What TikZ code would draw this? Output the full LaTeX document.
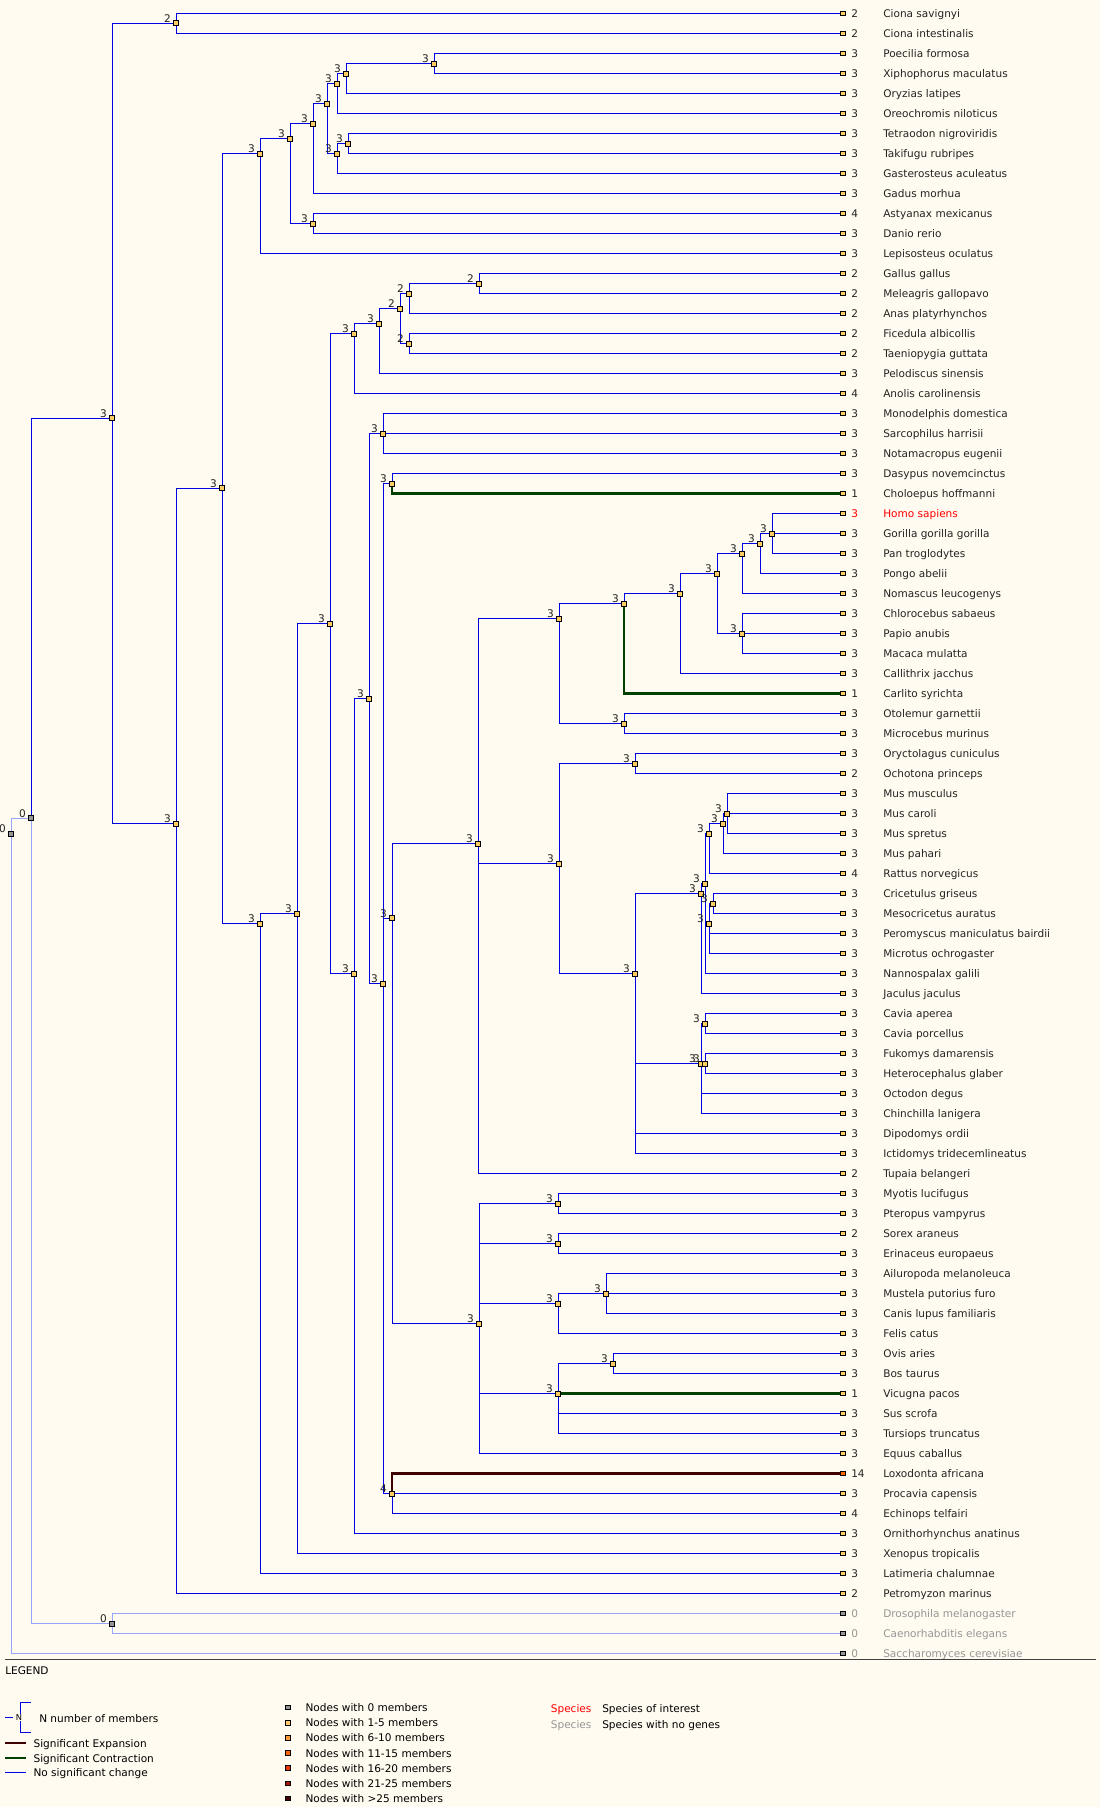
\documentclass[tikz,border=0pt]{standalone}
\usepackage{fontspec}
\setmainfont{DejaVu Sans}
\usetikzlibrary{calc}

\definecolor{paperc}{RGB}{255,251,240}
\definecolor{cblue}{RGB}{0,0,230}
\definecolor{cnog}{RGB}{150,165,250}
\definecolor{ccont}{RGB}{0,64,0}
\definecolor{cexp}{RGB}{64,0,0}
\definecolor{nodec}{RGB}{255,204,102}
\definecolor{zeroc}{RGB}{150,150,150}
\definecolor{txtc}{RGB}{35,35,35}
\definecolor{csix}{RGB}{255,153,51}
\definecolor{celev}{RGB}{255,102,0}
\definecolor{csixt}{RGB}{230,51,0}
\definecolor{ctwen}{RGB}{170,17,0}
\definecolor{cmax}{RGB}{68,0,0}

\pgfdeclarelayer{paper}
\pgfdeclarelayer{edges}
\pgfsetlayers{paper,edges,main}

% internal node: [style]{name}{x}{y}{members}
\newcommand{\inode}[5][isq]{%
  \node[#1] (#2) at (#3,#4) {};
  \node[nlbl] (#2-l) at ([shift={(-5,-1)}]#2.center) {#5};}
% leaf: [text colour]{square colour}{name}{row}{members}{species}
\newcommand{\leaf}[6][txtc]{%
  \node[lsq,fill=#2] (#3) at (843,{13.3+20*(#4-1)}) {};
  \node[cnt,text=#1] (#3-n) at ([shift={(8,4)}]#3.center) {#5};
  \node[spc,text=#1] (#3-t) at ([shift={(40,4)}]#3.center) {#6};}

\begin{document}
\begin{tikzpicture}[x=0.75pt,y=-0.75pt,
    tf/.style={font=\fontsize{7.9pt}{9.5pt}\selectfont},
    isq/.style={draw=black,line width=0.75pt,fill=nodec,inner sep=0pt,minimum size=3.7pt},
    isq0/.style={isq,fill=zeroc},
    lsq/.style={draw=black,line width=0.7pt,inner sep=0pt,minimum size=3.3pt},
    nlbl/.style={tf,text=txtc,inner sep=0pt,anchor=base east},
    cnt/.style={tf,inner sep=0pt,anchor=base west},
    spc/.style={tf,text=black,inner sep=0pt,anchor=base west},
    br/.style={draw=cblue,line width=0.75pt},
    brn/.style={draw=cnog,line width=0.75pt},
    brc/.style={draw=ccont,line width=1.9pt},
    bre/.style={draw=cexp,line width=1.9pt}]
    \useasboundingbox (0,0) rectangle (1100,1807);
    \begin{pgfonlayer}{paper}
        \fill[paperc] (0,0) rectangle (1100,1807);
    \end{pgfonlayer}

    % leaves
    \leaf{nodec}{csav}{1}{2}{Ciona savignyi}
    \leaf{nodec}{cint}{2}{2}{Ciona intestinalis}
    \leaf{nodec}{pfor}{3}{3}{Poecilia formosa}
    \leaf{nodec}{xmac}{4}{3}{Xiphophorus maculatus}
    \leaf{nodec}{olat}{5}{3}{Oryzias latipes}
    \leaf{nodec}{onil}{6}{3}{Oreochromis niloticus}
    \leaf{nodec}{tnig}{7}{3}{Tetraodon nigroviridis}
    \leaf{nodec}{trub}{8}{3}{Takifugu rubripes}
    \leaf{nodec}{gacu}{9}{3}{Gasterosteus aculeatus}
    \leaf{nodec}{gmor}{10}{3}{Gadus morhua}
    \leaf{nodec}{amex}{11}{4}{Astyanax mexicanus}
    \leaf{nodec}{drer}{12}{3}{Danio rerio}
    \leaf{nodec}{locu}{13}{3}{Lepisosteus oculatus}
    \leaf{nodec}{ggal}{14}{2}{Gallus gallus}
    \leaf{nodec}{mgal}{15}{2}{Meleagris gallopavo}
    \leaf{nodec}{apla}{16}{2}{Anas platyrhynchos}
    \leaf{nodec}{falb}{17}{2}{Ficedula albicollis}
    \leaf{nodec}{tgut}{18}{2}{Taeniopygia guttata}
    \leaf{nodec}{psin}{19}{3}{Pelodiscus sinensis}
    \leaf{nodec}{acar}{20}{4}{Anolis carolinensis}
    \leaf{nodec}{mdom}{21}{3}{Monodelphis domestica}
    \leaf{nodec}{shar}{22}{3}{Sarcophilus harrisii}
    \leaf{nodec}{neug}{23}{3}{Notamacropus eugenii}
    \leaf{nodec}{dnov}{24}{3}{Dasypus novemcinctus}
    \leaf{nodec}{chof}{25}{1}{Choloepus hoffmanni}
    \leaf[red]{nodec}{hsap}{26}{3}{Homo sapiens}
    \leaf{nodec}{ggor}{27}{3}{Gorilla gorilla gorilla}
    \leaf{nodec}{ptro}{28}{3}{Pan troglodytes}
    \leaf{nodec}{pabe}{29}{3}{Pongo abelii}
    \leaf{nodec}{nleu}{30}{3}{Nomascus leucogenys}
    \leaf{nodec}{csab}{31}{3}{Chlorocebus sabaeus}
    \leaf{nodec}{panu}{32}{3}{Papio anubis}
    \leaf{nodec}{mmul}{33}{3}{Macaca mulatta}
    \leaf{nodec}{cjac}{34}{3}{Callithrix jacchus}
    \leaf{nodec}{csyr}{35}{1}{Carlito syrichta}
    \leaf{nodec}{ogar}{36}{3}{Otolemur garnettii}
    \leaf{nodec}{mmur}{37}{3}{Microcebus murinus}
    \leaf{nodec}{ocun}{38}{3}{Oryctolagus cuniculus}
    \leaf{nodec}{opri}{39}{2}{Ochotona princeps}
    \leaf{nodec}{mmus}{40}{3}{Mus musculus}
    \leaf{nodec}{mcar}{41}{3}{Mus caroli}
    \leaf{nodec}{mspr}{42}{3}{Mus spretus}
    \leaf{nodec}{mpah}{43}{3}{Mus pahari}
    \leaf{nodec}{rnor}{44}{4}{Rattus norvegicus}
    \leaf{nodec}{cgri}{45}{3}{Cricetulus griseus}
    \leaf{nodec}{maur}{46}{3}{Mesocricetus auratus}
    \leaf{nodec}{pman}{47}{3}{Peromyscus maniculatus bairdii}
    \leaf{nodec}{moch}{48}{3}{Microtus ochrogaster}
    \leaf{nodec}{ngal}{49}{3}{Nannospalax galili}
    \leaf{nodec}{jjac}{50}{3}{Jaculus jaculus}
    \leaf{nodec}{cape}{51}{3}{Cavia aperea}
    \leaf{nodec}{cpor}{52}{3}{Cavia porcellus}
    \leaf{nodec}{fdam}{53}{3}{Fukomys damarensis}
    \leaf{nodec}{hgla}{54}{3}{Heterocephalus glaber}
    \leaf{nodec}{odeg}{55}{3}{Octodon degus}
    \leaf{nodec}{clan}{56}{3}{Chinchilla lanigera}
    \leaf{nodec}{dord}{57}{3}{Dipodomys ordii}
    \leaf{nodec}{itri}{58}{3}{Ictidomys tridecemlineatus}
    \leaf{nodec}{tbel}{59}{2}{Tupaia belangeri}
    \leaf{nodec}{mluc}{60}{3}{Myotis lucifugus}
    \leaf{nodec}{pvam}{61}{3}{Pteropus vampyrus}
    \leaf{nodec}{sara}{62}{2}{Sorex araneus}
    \leaf{nodec}{eeur}{63}{3}{Erinaceus europaeus}
    \leaf{nodec}{amel}{64}{3}{Ailuropoda melanoleuca}
    \leaf{nodec}{mput}{65}{3}{Mustela putorius furo}
    \leaf{nodec}{clup}{66}{3}{Canis lupus familiaris}
    \leaf{nodec}{fcat}{67}{3}{Felis catus}
    \leaf{nodec}{oari}{68}{3}{Ovis aries}
    \leaf{nodec}{btau}{69}{3}{Bos taurus}
    \leaf{nodec}{vpac}{70}{1}{Vicugna pacos}
    \leaf{nodec}{sscr}{71}{3}{Sus scrofa}
    \leaf{nodec}{ttru}{72}{3}{Tursiops truncatus}
    \leaf{nodec}{ecab}{73}{3}{Equus caballus}
    \leaf{celev}{lafr}{74}{14}{Loxodonta africana}
    \leaf{nodec}{pcap}{75}{3}{Procavia capensis}
    \leaf{nodec}{etel}{76}{4}{Echinops telfairi}
    \leaf{nodec}{oana}{77}{3}{Ornithorhynchus anatinus}
    \leaf{nodec}{xtro}{78}{3}{Xenopus tropicalis}
    \leaf{nodec}{lcha}{79}{3}{Latimeria chalumnae}
    \leaf{nodec}{pmar}{80}{2}{Petromyzon marinus}
    \leaf[zeroc]{zeroc}{dmel}{81}{0}{Drosophila melanogaster}
    \leaf[zeroc]{zeroc}{cele}{82}{0}{Caenorhabditis elegans}
    \leaf[zeroc]{zeroc}{scer}{83}{0}{Saccharomyces cerevisiae}

    % inner nodes
    \inode[isq0]{root}{11}{833.7}{0}
    \inode[isq0]{opis}{31}{818.3}{0}
    \inode[isq0]{ecdy}{112}{1623.7}{0}
    \inode{deut}{112}{418.3}{3}
    \inode{cio}{176}{23.3}{2}
    \inode{vert}{176}{823.7}{3}
    \inode{gnath}{222}{488.3}{3}
    \inode{actino}{260}{153.7}{3}
    \inode{teleo}{290}{138.7}{3}
    \inode{eute}{313}{123.7}{3}
    \inode{otophy}{313}{223.7}{3}
    \inode{perc}{327}{103.7}{3}
    \inode{ovale}{337}{83.7}{3}
    \inode{cypr}{346}{73.7}{3}
    \inode{poec}{434}{63.7}{3}
    \inode{tetra}{337}{153.7}{3}
    \inode{fugu}{348}{143.7}{3}
    \inode{sarco}{260}{923.7}{3}
    \inode{tetrap}{297}{913.7}{3}
    \inode{amnio}{330}{623.7}{3}
    \inode{saur}{354}{333.7}{3}
    \inode{arch}{379}{323.7}{3}
    \inode{aves}{400}{308.7}{2}
    \inode{galli}{409}{293.7}{2}
    \inode{phas}{479}{283.7}{2}
    \inode{passe}{409}{343.7}{2}
    \inode{mamm}{354}{973.7}{3}
    \inode{theria}{369}{698.7}{3}
    \inode{marsu}{383}{433.7}{3}
    \inode{euth}{383}{983.7}{3}
    \inode{xenar}{392}{483.7}{3}
    \inode{boreo}{392}{918.3}{3}
    \inode{afro}{392}{1493.7}{4}
    \inode{euarch}{478}{843.7}{3}
    \inode{laur}{479}{1323.7}{3}
    \inode{prim}{559}{618.7}{3}
    \inode{haplo}{624}{603.7}{3}
    \inode{simi}{680}{593.7}{3}
    \inode{catar}{717}{573.7}{3}
    \inode{homin}{742}{553.7}{3}
    \inode{homini}{760}{543.7}{3}
    \inode{hpg}{772}{533.7}{3}
    \inode{cerco}{742}{633.7}{3}
    \inode{strep}{624}{723.7}{3}
    \inode{glires}{559}{863.7}{3}
    \inode{lago}{635}{763.7}{3}
    \inode{rodent}{635}{973.7}{3}
    \inode{musgrp}{727}{813.7}{3}
    \inode{musg}{723}{823.7}{3}
    \inode{murin}{709}{833.7}{3}
    \inode{muroid}{705}{883.7}{3}
    \inode{myomor}{701}{893.7}{3}
    \inode{cricg}{713}{903.7}{3}
    \inode{cricet}{709}{923.7}{3}
    \inode{cavia}{705}{1023.7}{3}
    \inode{hystr}{701}{1063.7}{3}
    \inode{bathy}{705}{1063.7}{3}
    \inode{chiro}{558}{1203.7}{3}
    \inode{eulip}{558}{1243.7}{3}
    \inode{carni}{558}{1303.7}{3}
    \inode{canif}{606}{1293.7}{3}
    \inode{cetart}{558}{1393.7}{3}
    \inode{bovid}{613}{1363.7}{3}

    % branches
    \begin{pgfonlayer}{edges}
        \draw[brn] (root.center) |- (opis.center) (root.center) |- (scer.center);
        \draw[brn] (opis.center) |- (ecdy.center);
        \draw[br] (opis.center) |- (deut.center);
        \draw[brn] (ecdy.center) |- (dmel.center) (ecdy.center) |- (cele.center);
        \draw[br] (deut.center) |- (cio.center) (deut.center) |- (vert.center);
        \draw[br] (cio.center) |- (csav.center) (cio.center) |- (cint.center);
        \draw[br] (vert.center) |- (gnath.center) (vert.center) |- (pmar.center);
        \draw[br] (gnath.center) |- (actino.center) (gnath.center) |- (sarco.center);
        % fish
        \draw[br] (actino.center) |- (teleo.center) (actino.center) |- (locu.center);
        \draw[br] (teleo.center) |- (eute.center) (teleo.center) |- (otophy.center);
        \draw[br] (otophy.center) |- (amex.center) (otophy.center) |- (drer.center);
        \draw[br] (eute.center) |- (perc.center) (eute.center) |- (gmor.center);
        \draw[br] (perc.center) |- (ovale.center) (perc.center) |- (tetra.center);
        \draw[br] (ovale.center) |- (cypr.center) (ovale.center) |- (onil.center);
        \draw[br] (cypr.center) |- (poec.center) (cypr.center) |- (olat.center);
        \draw[br] (poec.center) |- (pfor.center) (poec.center) |- (xmac.center);
        \draw[br] (tetra.center) |- (fugu.center) (tetra.center) |- (gacu.center);
        \draw[br] (fugu.center) |- (tnig.center) (fugu.center) |- (trub.center);
        % tetrapods
        \draw[br] (sarco.center) |- (tetrap.center) (sarco.center) |- (lcha.center);
        \draw[br] (tetrap.center) |- (amnio.center) (tetrap.center) |- (xtro.center);
        \draw[br] (amnio.center) |- (saur.center) (amnio.center) |- (mamm.center);
        \draw[br] (saur.center) |- (arch.center) (saur.center) |- (acar.center);
        \draw[br] (arch.center) |- (aves.center) (arch.center) |- (psin.center);
        \draw[br] (aves.center) |- (galli.center) (aves.center) |- (passe.center);
        \draw[br] (galli.center) |- (phas.center) (galli.center) |- (apla.center);
        \draw[br] (phas.center) |- (ggal.center) (phas.center) |- (mgal.center);
        \draw[br] (passe.center) |- (falb.center) (passe.center) |- (tgut.center);
        % mammals
        \draw[br] (mamm.center) |- (theria.center) (mamm.center) |- (oana.center);
        \draw[br] (theria.center) |- (marsu.center) (theria.center) |- (euth.center);
        \draw[br] (marsu.center) |- (mdom.center) (marsu.center) |- (shar.center)
                  (marsu.center) |- (neug.center);
        \draw[br] (euth.center) |- (xenar.center) (euth.center) |- (boreo.center)
                  (euth.center) |- (afro.center);
        \draw[br] (xenar.center) |- (dnov.center);
        \draw[brc] (xenar.center) |- (chof.center);
        \draw[bre] (afro.center) |- (lafr.center);
        \draw[br] (afro.center) |- (pcap.center) (afro.center) |- (etel.center);
        \draw[br] (boreo.center) |- (euarch.center) (boreo.center) |- (laur.center);
        % primates
        \draw[br] (euarch.center) |- (prim.center) (euarch.center) |- (glires.center)
                  (euarch.center) |- (tbel.center);
        \draw[br] (prim.center) |- (haplo.center) (prim.center) |- (strep.center);
        \draw[br] (haplo.center) |- (simi.center);
        \draw[brc] (haplo.center) |- (csyr.center);
        \draw[br] (simi.center) |- (catar.center) (simi.center) |- (cjac.center);
        \draw[br] (catar.center) |- (homin.center) (catar.center) |- (cerco.center);
        \draw[br] (homin.center) |- (homini.center) (homin.center) |- (nleu.center);
        \draw[br] (homini.center) |- (hpg.center) (homini.center) |- (pabe.center);
        \draw[br] (hpg.center) |- (hsap.center) (hpg.center) |- (ggor.center)
                  (hpg.center) |- (ptro.center);
        \draw[br] (cerco.center) |- (csab.center) (cerco.center) |- (panu.center)
                  (cerco.center) |- (mmul.center);
        \draw[br] (strep.center) |- (ogar.center) (strep.center) |- (mmur.center);
        % glires
        \draw[br] (glires.center) |- (lago.center) (glires.center) |- (rodent.center);
        \draw[br] (lago.center) |- (ocun.center) (lago.center) |- (opri.center);
        \draw[br] (rodent.center) |- (myomor.center) (rodent.center) |- (hystr.center)
                  (rodent.center) |- (dord.center) (rodent.center) |- (itri.center);
        \draw[br] (myomor.center) |- (muroid.center) (myomor.center) |- (jjac.center);
        \draw[br] (muroid.center) |- (murin.center) (muroid.center) |- (cricet.center)
                  (muroid.center) |- (ngal.center);
        \draw[br] (murin.center) |- (musg.center) (murin.center) |- (rnor.center);
        \draw[br] (musg.center) |- (musgrp.center) (musg.center) |- (mpah.center);
        \draw[br] (musgrp.center) |- (mmus.center) (musgrp.center) |- (mcar.center)
                  (musgrp.center) |- (mspr.center);
        \draw[br] (cricet.center) |- (cricg.center) (cricet.center) |- (pman.center)
                  (cricet.center) |- (moch.center);
        \draw[br] (cricg.center) |- (cgri.center) (cricg.center) |- (maur.center);
        \draw[br] (hystr.center) |- (cavia.center) (hystr.center) |- (bathy.center)
                  (hystr.center) |- (odeg.center) (hystr.center) |- (clan.center);
        \draw[br] (cavia.center) |- (cape.center) (cavia.center) |- (cpor.center);
        \draw[br] (bathy.center) |- (fdam.center) (bathy.center) |- (hgla.center);
        % laurasiatheria
        \draw[br] (laur.center) |- (chiro.center) (laur.center) |- (eulip.center)
                  (laur.center) |- (carni.center) (laur.center) |- (cetart.center)
                  (laur.center) |- (ecab.center);
        \draw[br] (chiro.center) |- (mluc.center) (chiro.center) |- (pvam.center);
        \draw[br] (eulip.center) |- (sara.center) (eulip.center) |- (eeur.center);
        \draw[br] (carni.center) |- (canif.center) (carni.center) |- (fcat.center);
        \draw[br] (canif.center) |- (amel.center) (canif.center) |- (mput.center)
                  (canif.center) |- (clup.center);
        \draw[br] (cetart.center) |- (bovid.center) (cetart.center) |- (sscr.center)
                  (cetart.center) |- (ttru.center);
        \draw[brc] (cetart.center) |- (vpac.center);
        \draw[br] (bovid.center) |- (oari.center) (bovid.center) |- (btau.center);
    \end{pgfonlayer}

    % legend
    \draw[black!75,line width=0.75pt] (5,1659.3) -- (1096,1659.3);
    \node[spc] (lgd) at (5,1674) {LEGEND};
    \draw[br] (5.3,1717.3) -- (13,1717.3);
    \draw[br] (30.7,1702.7) -- (20.7,1702.7) -- (20.7,1732) -- (30.7,1732);
    \node[fill=paperc,inner sep=0.4pt,font=\fontsize{6.2pt}{7pt}\selectfont] (lgn) at (19,1717.3) {N};
    \node[spc] (lgnt) at (39,1722) {N number of members};
    \draw[bre,line width=1.5pt] (5.3,1743) -- (26,1743);
    \node[spc] (lgex) at (33.3,1747) {Significant Expansion};
    \draw[brc,line width=1.5pt] (5.3,1758) -- (26,1758);
    \node[spc] (lgco) at (33.3,1762) {Significant Contraction};
    \draw[br] (5.3,1772.7) -- (26,1772.7);
    \node[spc] (lgno) at (33.3,1776.7) {No significant change};

    \node[lsq,fill=zeroc] (k0) at (288,1707.7) {};
    \node[spc] (k0t) at (305.3,1711.7) {Nodes with 0 members};
    \node[lsq,fill=nodec] (k1) at (288,1722.8) {};
    \node[spc] (k1t) at (305.3,1726.8) {Nodes with 1-5 members};
    \node[lsq,fill=csix] (k2) at (288,1737.9) {};
    \node[spc] (k2t) at (305.3,1741.9) {Nodes with 6-10 members};
    \node[lsq,fill=celev] (k3) at (288,1753) {};
    \node[spc] (k3t) at (305.3,1757) {Nodes with 11-15 members};
    \node[lsq,fill=csixt] (k4) at (288,1768.1) {};
    \node[spc] (k4t) at (305.3,1772.1) {Nodes with 16-20 members};
    \node[lsq,fill=ctwen] (k5) at (288,1783.2) {};
    \node[spc] (k5t) at (305.3,1787.2) {Nodes with 21-25 members};
    \node[lsq,fill=cmax] (k6) at (288,1798.3) {};
    \node[spc] (k6t) at (305.3,1802.3) {Nodes with >25 members};

    \node[spc,text=red] (spi) at (550.6,1712) {Species};
    \node[spc] (spit) at (602,1712) {Species of interest};
    \node[spc,text=zeroc] (spn) at (550.6,1728.7) {Species};
    \node[spc] (spnt) at (602,1728.7) {Species with no genes};
\end{tikzpicture}
\end{document}
